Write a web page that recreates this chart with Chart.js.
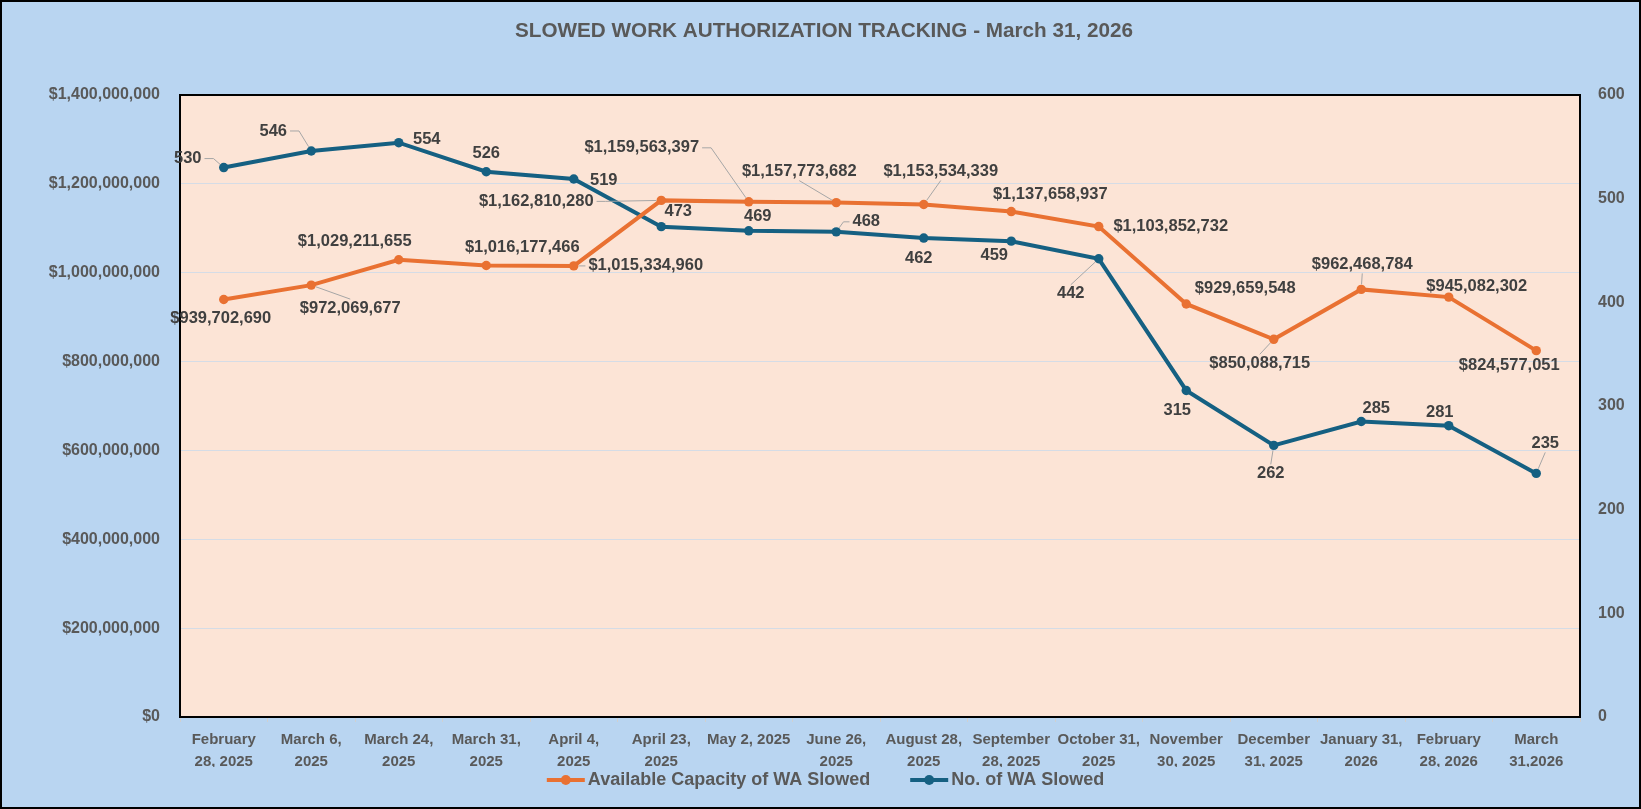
<!DOCTYPE html>
<html lang="en">
<head>
  <meta charset="UTF-8">
  <title>Slowed Work Authorization Tracking</title>
  <script src="https://cdn.jsdelivr.net/npm/chart.js"></script>
  <style>
    html, body { margin: 0; padding: 0; background: #b9d5f1; }
  </style>
</head>
<body>
  <canvas id="waChart" width="1641" height="809"></canvas>

  <script>
    const dateLabels = [
      ['February', '28, 2025'], ['March 6,', '2025'], ['March 24,', '2025'], ['March 31,', '2025'],
      ['April 4,', '2025'], ['April 23,', '2025'], ['May 2, 2025'], ['June 26,', '2025'],
      ['August 28,', '2025'], ['September', '28, 2025'], ['October 31,', '2025'], ['November', '30, 2025'],
      ['December', '31, 2025'], ['January 31,', '2026'], ['February', '28, 2026'], ['March', '31,2026']
    ];
    const capacityValues = [
      939702690, 972069677, 1029211655, 1016177466, 1015334960, 1162810280, 1159563397, 1157773682,
      1153534339, 1137658937, 1103852732, 929659548, 850088715, 962468784, 945082302, 824577051
    ];
    const countValues = [530, 546, 554, 526, 519, 473, 469, 468, 462, 459, 442, 315, 262, 285, 281, 235];
    const capacityTicks = [0, 200000000, 400000000, 600000000, 800000000, 1000000000, 1200000000, 1400000000];
    const countTicks = [0, 100, 200, 300, 400, 500, 600];

    // label placement (offset from the point, px) and the side a leader line leaves from
    const capacityLabelPos = [[-3, 19], [39, 23], [-44, -18], [36, -18], [72, 0], [-125, 1], [-107, -54], [-37, -31],
      [17, -33], [39, -17], [72, 0], [59, -16], [-14, 24], [1, -25], [28, -11], [-27, 15]];
    const capacityLeaders = [null, 't', null, null, 'l', 'r', 'r', 'b', 'b', null, null, null, 't', 'b', null, null];
    const countLabelPos = [[-36, -9], [-38, -20], [28, -3], [0, -18], [30, 1], [17, -15], [9, -14], [30, -10],
      [-5, 20], [-17, 14], [-28, 35], [-9, 20], [-3, 28], [15, -13], [-9, -13], [9, -30]];
    const countLeaders = ['r', 'r', null, null, null, null, null, 'l', null, null, 't', null, 't', null, null, 'b'];

    const ORANGE = '#e97132';
    const BLUE = '#156082';
    const TEXT = '#595959';
    const FONT = '"Liberation Sans", Arial, sans-serif';

    const money = v => '$' + v.toLocaleString('en-US');

    const background = {
      id: 'background',
      beforeDraw(chart) {
        const { ctx, chartArea: a } = chart;
        ctx.save();
        ctx.fillStyle = '#b9d5f1';
        ctx.fillRect(0, 0, chart.width, chart.height);
        ctx.fillStyle = '#fce4d6';
        ctx.fillRect(a.left, a.top, a.right - a.left, a.bottom - a.top);
        ctx.restore();
      },
      beforeDatasetsDraw(chart) {
        const { ctx, chartArea: a } = chart;
        ctx.save();
        ctx.strokeStyle = '#000';
        ctx.lineWidth = 2;
        ctx.strokeRect(a.left, a.top, a.right - a.left, a.bottom - a.top);
        ctx.restore();
      },
      afterDraw(chart) {
        const ctx = chart.ctx;
        ctx.save();
        // title
        ctx.fillStyle = TEXT;
        ctx.font = 'bold 20.7px ' + FONT;
        ctx.textAlign = 'center';
        ctx.textBaseline = 'middle';
        ctx.fillText('SLOWED WORK AUTHORIZATION TRACKING - March 31, 2026', 824, 31);

        // legend: line + dot marker, then label
        ctx.font = 'bold 18px ' + FONT;
        ctx.textAlign = 'left';
        const items = chart.data.datasets.map(d => ({ text: d.label, color: d.borderColor }));
        const markW = 38, gap = 3, itemGap = 40;
        const widths = items.map(it => markW + gap + ctx.measureText(it.text).width);
        let x = chart.width / 2 + 5 - (widths.reduce((s, w) => s + w, 0) + itemGap) / 2;
        const y = 780;
        items.forEach((it, i) => {
          ctx.strokeStyle = it.color;
          ctx.fillStyle = it.color;
          ctx.lineWidth = 4;
          ctx.beginPath();
          ctx.moveTo(x, y);
          ctx.lineTo(x + markW, y);
          ctx.stroke();
          ctx.beginPath();
          ctx.arc(x + markW / 2, y, 5, 0, Math.PI * 2);
          ctx.fill();
          ctx.fillStyle = TEXT;
          ctx.fillText(it.text, x + markW + gap, y);
          x += widths[i] + itemGap;
        });

        // outer frame
        ctx.strokeStyle = '#000';
        ctx.lineWidth = 2;
        ctx.strokeRect(1, 1, chart.width - 2, chart.height - 2);
        ctx.restore();
      }
    };

    const pointLabels = {
      id: 'pointLabels',
      afterDatasetsDraw(chart, args, opts) {
        const ctx = chart.ctx;
        ctx.save();
        ctx.font = 'bold 16.5px ' + FONT;
        ctx.textAlign = 'center';
        ctx.textBaseline = 'middle';
        chart.data.datasets.forEach((ds, di) => {
          const set = opts.sets[di];
          chart.getDatasetMeta(di).data.forEach((pt, i) => {
            const text = set.format(ds.data[i]);
            const lx = pt.x + set.pos[i][0];
            const ly = pt.y + set.pos[i][1];
            const w = ctx.measureText(text).width;
            const h = 14;
            const side = set.leaders[i];
            if (side) {
              const path = [];
              if (side === 'r') { path.push([lx + w / 2 + 3, ly], [lx + w / 2 + 12, ly]); }
              if (side === 'l') { path.push([lx - w / 2 - 3, ly], [lx - w / 2 - 9, ly]); }
              if (side === 't') { path.push([lx, ly - h / 2 - 2]); }
              if (side === 'b') { path.push([lx, ly + h / 2 + 2]); }
              const last = path[path.length - 1];
              const vx = pt.x - last[0], vy = pt.y - last[1];
              const len = Math.hypot(vx, vy) || 1;
              const cut = Math.min(5, len);
              path.push([pt.x - vx / len * cut, pt.y - vy / len * cut]);
              ctx.strokeStyle = '#a6a6a6';
              ctx.lineWidth = 1;
              ctx.beginPath();
              ctx.moveTo(path[0][0], path[0][1]);
              path.slice(1).forEach(p => ctx.lineTo(p[0], p[1]));
              ctx.stroke();
            }
            ctx.fillStyle = '#404040';
            ctx.fillText(text, lx, ly);
          });
        });
        ctx.restore();
      }
    };

    const ctx = document.getElementById('waChart').getContext('2d');
    const waChart = new Chart(ctx, {
      type: 'line',
      data: {
        labels: dateLabels,
        datasets: [{
          label: 'Available Capacity of WA Slowed',
          data: capacityValues,
          yAxisID: 'yCap',
          borderColor: ORANGE,
          backgroundColor: ORANGE,
          borderWidth: 4,
          pointRadius: 4.7,
          pointBorderWidth: 0,
          fill: false
        }, {
          label: 'No. of WA Slowed',
          data: countValues,
          yAxisID: 'yCount',
          borderColor: BLUE,
          backgroundColor: BLUE,
          borderWidth: 4,
          pointRadius: 4.7,
          pointBorderWidth: 0,
          fill: false
        }]
      },
      options: {
        responsive: false,
        animation: false,
        devicePixelRatio: 1,
        layout: { padding: { top: 95, left: 0, right: 0, bottom: 42 } },
        scales: {
          x: {
            offset: true,
            grid: { offset: true, drawOnChartArea: false, tickLength: 5, color: '#d0d0d0' },
            border: { display: false },
            ticks: {
              padding: 7,
              maxRotation: 0,
              autoSkip: false,
              color: TEXT,
              font: { family: FONT, size: 15, weight: 'bold', lineHeight: 22 / 15 }
            },
            afterFit: s => { s.height = 50; }
          },
          yCap: {
            position: 'left',
            min: capacityTicks[0],
            max: capacityTicks[capacityTicks.length - 1],
            afterBuildTicks: s => { s.ticks = capacityTicks.map(v => ({ value: v })); },
            grid: { color: '#d5dce6', lineWidth: 1, drawTicks: false },
            border: { display: false },
            ticks: {
              padding: 20,
              color: TEXT,
              font: { family: FONT, size: 16, weight: 'bold' },
              callback: v => money(v)
            },
            afterFit: s => { s.width = 180; }
          },
          yCount: {
            position: 'right',
            min: countTicks[0],
            max: countTicks[countTicks.length - 1],
            afterBuildTicks: s => { s.ticks = countTicks.map(v => ({ value: v })); },
            grid: { display: false, drawTicks: false },
            border: { display: false },
            ticks: {
              padding: 18,
              color: TEXT,
              font: { family: FONT, size: 16, weight: 'bold' }
            },
            afterFit: s => { s.width = 61; }
          }
        },
        plugins: {
          legend: { display: false },
          title: { display: false },
          tooltip: { enabled: false },
          pointLabels: {
            sets: [
              { format: money, pos: capacityLabelPos, leaders: capacityLeaders },
              { format: v => String(v), pos: countLabelPos, leaders: countLeaders }
            ]
          }
        }
      },
      plugins: [background, pointLabels]
    });
  </script>
</body>
</html>
